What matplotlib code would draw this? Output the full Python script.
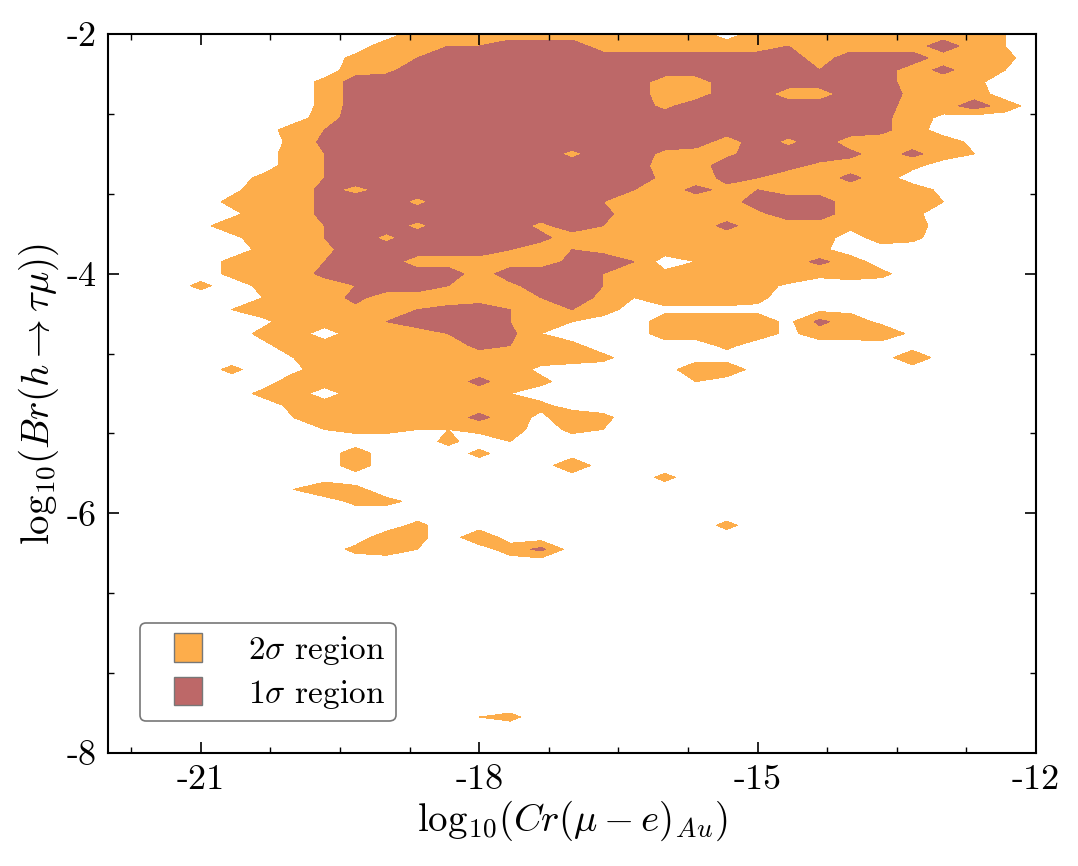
import numpy as np
import matplotlib
matplotlib.use("Agg")
import matplotlib.pyplot as plt
from matplotlib.patches import Patch, Rectangle
from matplotlib.legend_handler import HandlerPatch
from matplotlib.ticker import MultipleLocator
from matplotlib import rcParams
rcParams.update({'font.size': 26,
                 'font.family': 'serif',
                 'font.serif': ['cmr10'],
                 'mathtext.fontset': 'cm',
                 'axes.unicode_minus': False,
                 'axes.formatter.use_mathtext': True})

# grid of the binned likelihood
# x nodes: log10(Cr) from -22 to -12 in steps of 1/3
# y nodes: log10(Br) from -2 (first row) to -8 (last row) in steps of 0.1
# '.' = 0, 2 sigma region where value > 2, 1 sigma region where value > 6
x_nodes = np.linspace(-22, -12, 31)
y_nodes = np.linspace(-2, -8, 61)
grid_rows = [
    "..... ..... 44444 44444 .4442 44442 .",
    "..... ....4 46688 84444 44644 44842 .",
    "..... ...34 68888 88888 88848 88443 .",
    "..... ...45 88888 88888 88868 84742 .",
    "..... ..388 88888 88844 88888 8443. .",
    "..... ..388 88888 88844 88448 8544. .",
    "..... ..388 88888 88858 88888 84484 .",
    "..... ..488 88888 88888 88888 741.. .",
    "..... .4688 88888 88888 88888 74... .",
    "..... .3788 88888 88888 48584 4441. .",
    "..... .4688 88888 58854 58887 4742. .",
    "..... .4688 88888 88844 88754 43... .",
    "..... 34688 88888 88854 76447 4.... .",
    "....1 44757 88888 88647 56444 441.. .",
    "....3 44788 58888 86444 48884 442.. .",
    "....1 44788 88888 87444 45884 43... .",
    "...14 44688 58885 86444 74443 44... .",
    "....1 44685 88887 44444 4444. 43... .",
    "..... 34588 88864 65444 4443. ..... .",
    "....3 44688 44444 786.2 44474 ..... .",
    "....3 44788 88488 86434 44634 3.... .",
    "...3. 34468 86458 86444 441.. ..... .",
    "..... 24474 44446 85244 43... ..... .",
    "....2 44456 67864 64.11 11111 ..... .",
    "..... 14446 88864 2..44 44174 1.... .",
    "..... 34.44 46872 ...44 44144 51... .",
    "..... 14444 44763 3.... 3.... ..... .",
    "..... .2444 44444 43... ..... .5... .",
    "....3 .1444 44441 ....5 5.... ..... .",
    "..... .4444 44743 ....2 ..... ..... .",
    "..... 34.44 4442. ..... ..... ..... .",
    "..... .3444 44443 ..... ..... ..... .",
    "..... .2444 44741 53... ..... ..... .",
    "..... ..233 2234. 32... ..... ..... .",
    "..... ..... .3.2. ..... ..... ..... .",
    "..... ...4. ..3.. ..... ..... ..... .",
    "..... ...4. ..... 5.... ..... ..... .",
    "..... ..... ..... ...3. ..... ..... .",
    "..... .253. ..... ..... ..... ..... .",
    "..... ...33 1.... ..... ..... ..... .",
    "..... ..... ..... ..... ..... ..... .",
    "..... ..... 3.... ..... 3.... ..... .",
    "..... ....4 3.5.. ..... ..... ..... .",
    "..... ...34 2..47 ..... ..... ..... .",
    "..... ..... ..... ..... ..... ..... .",
    "..... ..... ..... ..... ..... ..... .",
    "..... ..... ..... ..... ..... ..... .",
    "..... ..... ..... ..... ..... ..... .",
    "..... ..... ..... ..... ..... ..... .",
    "..... ..... ..... ..... ..... ..... .",
    "..... ..... ..... ..... ..... ..... .",
    "..... ..... ..... ..... ..... ..... .",
    "..... ..... ..... ..... ..... ..... .",
    "..... ..... ..... ..... ..... ..... .",
    "..... ..... ..... ..... ..... ..... .",
    "..... ..... ..... ..... ..... ..... .",
    "..... ..... ..... ..... ..... ..... .",
    "..... ..... ..23. ..... ..... ..... .",
    "..... ..... ..... ..... ..... ..... .",
    "..... ..... ..... ..... ..... ..... .",
    "..... ..... ..... ..... ..... ..... .",
]
levels = [2, 6, 10]
region_labels = [r'$2\sigma$ region', r'$1\sigma$ region']
region_colors = ['#FDAD4B', '#BD6868']

x_ticks = [-21, -18, -15, -12]
x_ticklabels = ['-21', '-18', '-15', '-12']
y_ticks = [-2, -4, -6, -8]
y_ticklabels = ['-2', '-4', '-6', '-8']


def parse_grid(rows):
    z = []
    for row in rows:
        row = row.replace(' ', '')
        z.append([0 if c == '.' else int(c) for c in row])
    return np.array(z, dtype=float)


def square_patch(legend, orig_handle, xdescent, ydescent, width, height, fontsize):
    # square swatch pushed to the right end of the handle box
    return Rectangle((-xdescent + width - height, -ydescent), height, height)


def main():
    z = parse_grid(grid_rows)

    fig = plt.figure(figsize=(10.78, 8.66), dpi=100)
    ax = fig.add_axes([0.1002, 0.1305, 0.8609, 0.8302])

    ax.contourf(x_nodes, y_nodes, z, levels=levels, colors=region_colors)

    ax.set_xlim(-22, -12)
    ax.set_ylim(-8, -2)
    ax.set_xticks(x_ticks)
    ax.set_xticklabels(x_ticklabels)
    ax.set_yticks(y_ticks)
    ax.set_yticklabels(y_ticklabels)
    ax.xaxis.set_minor_locator(MultipleLocator(0.75))
    ax.yaxis.set_minor_locator(MultipleLocator(2.0 / 3.0))
    ax.tick_params(which='both', direction='in', top=True, right=True)
    ax.tick_params(which='major', length=8, width=1.2)
    ax.tick_params(which='minor', length=4, width=1.0)
    ax.tick_params(axis='x', which='major', pad=8)
    ax.tick_params(axis='y', which='major', pad=8)
    for sp in ax.spines.values():
        sp.set_linewidth(1.5)

    ax.set_xlabel(r'$\mathrm{log}_{10}(Cr(\mu-e)_{Au})$', fontsize=28, labelpad=2)
    ax.set_ylabel(r'$\mathrm{log}_{10}(Br(h\rightarrow\tau\mu))$', fontsize=28, labelpad=4)

    handles = [Patch(facecolor=c, edgecolor='#777777', linewidth=1.0) for c in region_colors]
    leg = ax.legend(handles, region_labels, loc='lower left', fontsize=24,
                    borderaxespad=0.95, handlelength=1.56, handleheight=0.93,
                    handletextpad=1.38, labelspacing=0.3, borderpad=0.32,
                    handler_map={Patch: HandlerPatch(patch_func=square_patch)},
                    fancybox=True, framealpha=1.0, edgecolor='#777777')
    leg.get_frame().set_linewidth(1.2)

    fig.savefig('out.png', dpi=100)
    plt.close()


if __name__ == "__main__":
    main()
